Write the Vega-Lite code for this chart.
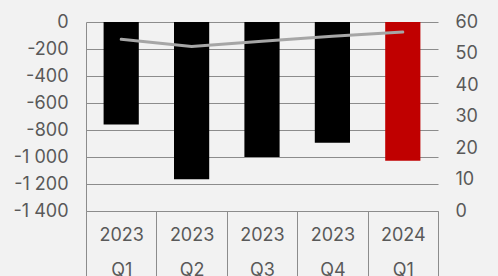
{
  "$schema": "https://vega.github.io/schema/vega-lite/v6.json",
  "width": 352,
  "height": 189,
  "autosize": "none",
  "padding": {"left": 86, "top": 22, "right": 60, "bottom": 65},
  "background": "#f2f2f2",
  "config": {
    "view": {"stroke": null},
    "font": "Inter",
    "axis": {"labelFont": "Inter", "labelFontSize": 18, "labelColor": "#595959"}
  },
  "data": {
    "values": [
      {"q": "2023 Q1", "value": -760, "ratio": 54.5},
      {"q": "2023 Q2", "value": -1165, "ratio": 52.2},
      {"q": "2023 Q3", "value": -1000, "ratio": 53.9},
      {"q": "2023 Q4", "value": -895, "ratio": 55.5},
      {"q": "2024 Q1", "value": -1027, "ratio": 56.8}
    ]
  },
  "encoding": {
    "x": {
      "field": "q",
      "type": "nominal",
      "sort": null,
      "scale": {"paddingInner": 0, "paddingOuter": 0},
      "axis": {
        "title": null,
        "labelAngle": 0,
        "tickBand": "extent",
        "ticks": true,
        "tickSize": 65,
        "tickColor": "#8c8c8c",
        "domainColor": "#8c8c8c",
        "grid": false,
        "labelPadding": -50,
        "labelBaseline": "top",
        "labelLineHeight": 35,
        "labelExpr": "split(datum.label, ' ')"
      }
    }
  },
  "layer": [
    {
      "mark": {"type": "bar", "width": {"band": 0.5}},
      "encoding": {
        "y": {
          "field": "value",
          "type": "quantitative",
          "scale": {"domain": [-1400, 0], "nice": false},
          "axis": {
            "title": null,
            "values": [-1400, -1200, -1000, -800, -600, -400, -200, 0],
            "grid": true,
            "gridColor": "#8c8c8c",
            "domain": true,
            "domainColor": "#8c8c8c",
            "ticks": false,
            "labelPadding": 18,
            "labelExpr": "replace(replace(format(datum.value, ','), ',', ' '), '−', '-')"
          }
        },
        "color": {
          "condition": {"test": "datum.q === '2024 Q1'", "value": "#c00000"},
          "value": "#000000"
        }
      }
    },
    {
      "mark": {"type": "line", "color": "#a6a6a6", "strokeWidth": 3, "strokeCap": "round"},
      "encoding": {
        "y": {
          "field": "ratio",
          "type": "quantitative",
          "scale": {"domain": [0, 60], "nice": false},
          "axis": {
            "title": null,
            "orient": "right",
            "values": [0, 10, 20, 30, 40, 50, 60],
            "grid": false,
            "domain": false,
            "ticks": false,
            "labelPadding": 17
          }
        }
      }
    }
  ],
  "resolve": {"scale": {"y": "independent"}}
}
